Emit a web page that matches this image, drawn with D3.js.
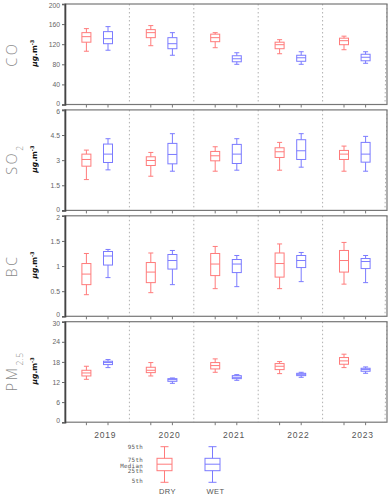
<!DOCTYPE html>
<html><head><meta charset="utf-8">
<script src="https://cdn.jsdelivr.net/npm/d3@7/dist/d3.min.js"></script>
<style>body{margin:0;background:#fff}svg{display:block}</style>
</head><body>
<svg id="c" width="389" height="499"></svg>
<script>
const years = ["2019","2020","2021","2022","2023"];
// [p5, q1, median, q3, p95]
const coDry = [[106,124,135,143,151],[117,133,143,149,157],[113,125,133,140,143],[101,111,119,124,129],[109,119,127,132,136]];
const coWet = [[108,121,131,145,155],[98,111,121,133,143],[80,85,91,97,103],[80,86,93,98,105],[82,87,94,100,105]];
const so2Dry = [[1.84,2.64,3.04,3.36,3.6],[2.04,2.68,2.98,3.2,3.46],[2.34,2.96,3.26,3.52,3.8],[2.4,3.16,3.5,3.74,4.06],[2.34,3.04,3.36,3.58,3.84]];
const so2Wet = [[2.42,2.86,3.36,3.96,4.28],[2.34,2.78,3.34,4.0,4.58],[2.4,2.8,3.36,3.94,4.28],[2.58,3.04,3.56,4.22,4.58],[2.34,2.88,3.36,4.06,4.42]];
const bcDry = [[0.43,0.63,0.84,1.05,1.25],[0.47,0.67,0.88,1.07,1.26],[0.55,0.81,1.04,1.25,1.39],[0.55,0.78,1.05,1.26,1.44],[0.64,0.88,1.11,1.31,1.47]];
const bcWet = [[0.77,1.02,1.2,1.29,1.33],[0.63,0.94,1.11,1.23,1.31],[0.59,0.87,1.04,1.13,1.21],[0.69,0.97,1.11,1.21,1.27],[0.67,0.95,1.09,1.15,1.21]];
const pmDry = [[12.8,13.8,14.7,15.5,16.7],[13.8,14.8,15.5,16.4,17.8],[14.9,15.9,16.9,17.8,18.9],[14.5,15.7,16.7,17.5,18.1],[16.3,17.3,18.3,19.3,20.3]];
const pmWet = [[16.3,17.2,17.8,18.2,18.7],[11.6,12.2,12.7,13.0,13.2],[12.5,13.0,13.4,13.9,14.2],[13.4,13.9,14.3,14.6,14.9],[14.6,15.2,15.7,16.1,16.5]];
const coTicks = [0,40,80,120,160,200];
const so2Ticks = [0,1.5,3,4.5,6];
const bcTicks = [0,0.5,1,1.5,2];
const pmTicks = [0,6,12,18,24,30];
const legendLabels = ["95th","75th","Median","25th","5th"];
const seasonNames = ["DRY","WET"];

const panels = [
  {name:["CO",""], dry:coDry, wet:coWet, ticks:coTicks},
  {name:["SO","2"], dry:so2Dry, wet:so2Wet, ticks:so2Ticks},
  {name:["BC",""], dry:bcDry, wet:bcWet, ticks:bcTicks},
  {name:["PM","2.5"], dry:pmDry, wet:pmWet, ticks:pmTicks}
];

const DRY = "#ff7b7b", WET = "#7b7bff";
const svg = d3.select("#c");
const L = 65, R = 387, top0 = 4, ph = 100.5, step = 105.9;
const x = d3.scaleBand().domain(years).range([L, R]).padding(0);
const off = 10.8, bw = 9, cw = 5;
const fmt = d3.format("~g");

panels.forEach((p, i) => {
  const t = top0 + i*step, b = t + ph;
  const y = d3.scaleLinear().domain([p.ticks[0], p.ticks[p.ticks.length-1]]).range([b, t]);
  const g = svg.append("g");
  // separators
  years.forEach(yr => {
    g.append("line").attr("x1", x(yr)+x.bandwidth()).attr("x2", x(yr)+x.bandwidth() - (yr==="2023"?2:0))
      .attr("y1", t).attr("y2", b).attr("stroke", "#b0b0b0").attr("stroke-width", 1).attr("stroke-dasharray", "1.5,2.5");
  });
  // frame
  g.append("rect").attr("x", L).attr("y", t).attr("width", R-L).attr("height", ph)
    .attr("fill", "none").attr("stroke", "#777").attr("stroke-width", 1.2);
  // y axis
  const ya = d3.axisLeft(y).tickValues(p.ticks).tickFormat(fmt).tickSize(3).tickPadding(2);
  const yg = g.append("g").attr("transform", `translate(${L},0)`).call(ya);
  yg.select(".domain").attr("stroke", "#444").attr("stroke-width", 1.6);
  yg.selectAll(".tick line").attr("stroke", "#666");
  const last = p.ticks.length - 1;
  yg.selectAll(".tick text").attr("fill", "#666")
    .style("font-family", "Liberation Sans, Arial, sans-serif").style("font-size", "6.8px")
    .attr("dy", (d, k) => k === last ? "0.55em" : (k === 0 ? "0.1em" : "0.32em"));
  // bottom ticks
  const bt = [];
  years.forEach(yr => { bt.push(x(yr)+x.bandwidth()/2-off); bt.push(x(yr)+x.bandwidth()/2+off); });
  g.selectAll(".bt").data(bt).enter().append("line").attr("x1", d=>d).attr("x2", d=>d)
    .attr("y1", b).attr("y2", b+3).attr("stroke", "#777");
  // boxes
  [[p.dry, -off, DRY],[p.wet, off, WET]].forEach(([data, o, col]) => {
    data.forEach((d, j) => {
      const cx = x(years[j]) + x.bandwidth()/2 + o;
      const bx = g.append("g").attr("stroke", col).attr("fill", "none").attr("stroke-width", 1);
      bx.append("line").attr("x1", cx).attr("x2", cx).attr("y1", y(d[4])).attr("y2", y(d[3]));
      bx.append("line").attr("x1", cx).attr("x2", cx).attr("y1", y(d[1])).attr("y2", y(d[0]));
      bx.append("line").attr("x1", cx-cw/2).attr("x2", cx+cw/2).attr("y1", y(d[4])).attr("y2", y(d[4]));
      bx.append("line").attr("x1", cx-cw/2).attr("x2", cx+cw/2).attr("y1", y(d[0])).attr("y2", y(d[0]));
      bx.append("rect").attr("x", cx-bw/2).attr("y", y(d[3])).attr("width", bw).attr("height", y(d[1])-y(d[3]));
      bx.append("line").attr("x1", cx-bw/2).attr("x2", cx+bw/2).attr("y1", y(d[2])).attr("y2", y(d[2]));
    });
  });
  // unit label
  const mid = (t+b)/2 - 1;
  const ut = g.append("text").attr("transform", `translate(37,${mid}) rotate(-90)`).attr("text-anchor", "middle")
    .style("font-family", "DejaVu Sans, sans-serif").style("font-size", "7.5px").style("font-weight", "bold").attr("fill", "#111");
  ut.append("tspan").style("font-style", "italic").text("µg");
  ut.append("tspan").text(".m");
  ut.append("tspan").attr("baseline-shift", "super").style("font-size", "5px").text("-3");
  // pollutant name
  const nt = g.append("text").attr("transform", `translate(16.5,${(t+b)/2}) rotate(-90)`).attr("text-anchor", "middle")
    .style("font-family", "Open Sans, sans-serif").style("font-weight", "300").style("font-size", "14.5px")
    .style("letter-spacing", "2.5px").attr("fill", "#8a8a8a");
  nt.append("tspan").text(p.name[0]);
  if (p.name[1]) nt.append("tspan").attr("baseline-shift", "sub").style("font-size", "8.5px").style("letter-spacing", "0.5px").text(p.name[1]);
});

// year labels
const lastB = top0 + 3*step + ph;
svg.selectAll(".yl").data(years).enter().append("text")
  .attr("x", d => x(d)+x.bandwidth()/2+8).attr("y", lastB+16).attr("text-anchor", "middle")
  .style("font-family", "Liberation Sans, Arial, sans-serif").style("font-size", "8.5px").style("letter-spacing", "0.8px")
  .attr("fill", "#555").text(d => d);

// legend
const ly = d3.scaleLinear().domain([0, 4]).range([446.7, 482.3]);
const lpos = [ly(0), 458.3, 464.2, 470.7, ly(4)];
[[164.5, DRY],[212.5, WET]].forEach(([cx, col], k) => {
  const lg = svg.append("g").attr("stroke", col).attr("fill", "none").attr("stroke-width", 1);
  lg.append("line").attr("x1", cx).attr("x2", cx).attr("y1", lpos[0]).attr("y2", lpos[1]);
  lg.append("line").attr("x1", cx).attr("x2", cx).attr("y1", lpos[3]).attr("y2", lpos[4]);
  lg.append("line").attr("x1", cx-4).attr("x2", cx+4).attr("y1", lpos[0]).attr("y2", lpos[0]);
  lg.append("line").attr("x1", cx-4).attr("x2", cx+4).attr("y1", lpos[4]).attr("y2", lpos[4]);
  lg.append("rect").attr("x", cx-7.5).attr("y", lpos[1]).attr("width", 15).attr("height", lpos[3]-lpos[1]);
  lg.append("line").attr("x1", cx-7.5).attr("x2", cx+7.5).attr("y1", lpos[2]).attr("y2", lpos[2]);
  svg.append("text").attr("x", cx+3).attr("y", 494).attr("text-anchor", "middle")
    .style("font-family", "Liberation Sans, Arial, sans-serif").style("font-size", "7.5px").style("letter-spacing", "0.5px")
    .attr("fill", "#555").text(seasonNames[k]);
});
const lty = [447, 460.5, 466, 471.5, 481];
svg.selectAll(".ll").data(legendLabels).enter().append("text")
  .attr("x", 143).attr("y", (d,i) => lty[i]).attr("text-anchor", "end").attr("dominant-baseline", "middle")
  .style("font-family", "DejaVu Sans Mono, monospace").style("font-size", "5.8px").style("letter-spacing", "0.3px")
  .attr("fill", "#555").text(d => d);
</script>
</body></html>
